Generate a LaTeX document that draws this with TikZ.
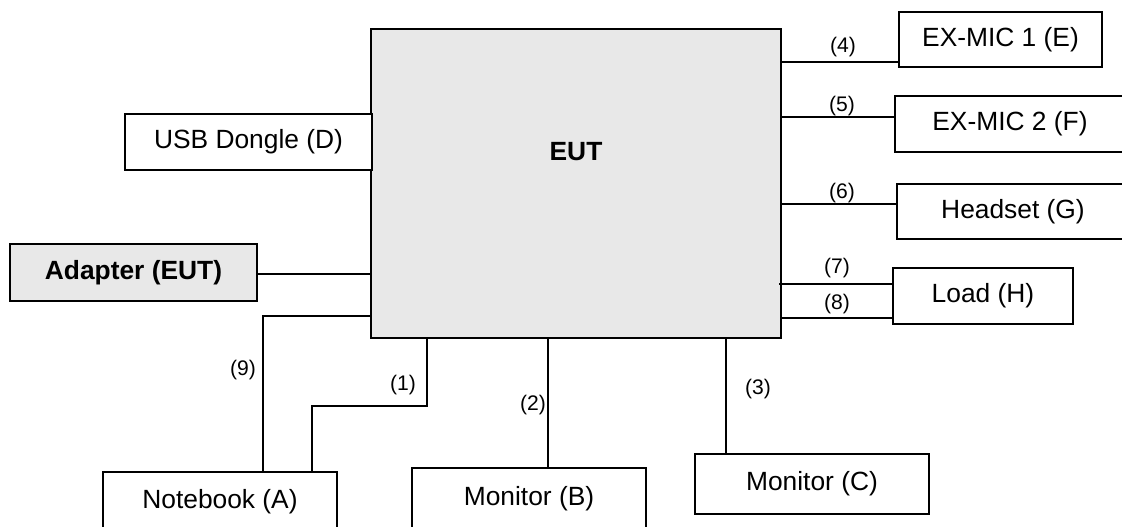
\documentclass[tikz,border=0pt]{standalone}
\usepackage{fontspec}
\setmainfont{Liberation Sans}
\usepackage{tikz}
\definecolor{eutgray}{HTML}{E8E8E8}

\begin{document}
\begin{tikzpicture}[x=0.02cm, y=-0.02cm,
  box/.style = {draw,line width=0.8pt,fill=white,align=center,
        inner sep=0pt,font=\fontsize{15}{18}\selectfont},
  hl/.style = {fill=eutgray,font=\fontsize{15}{18}\selectfont\bfseries},
  num/.style = {inner sep=0pt,font=\fontsize{12}{14}\selectfont},
  wire/.style = {line width=0.6pt}]
 \path[use as bounding box,clip] (0,0) rectangle (1122,527);

 \node[box,fill=eutgray,line width=1pt,minimum width=8.2cm,minimum height=6.18cm,
   label={[font=\fontsize{15}{18}\selectfont\bfseries,yshift=6.3mm]center:EUT}]
   (eut) at (576,183.5) {};
 \node[box,minimum width=4.94cm,minimum height=1.12cm] (usb) at (248.5,142) {USB Dongle (D)};
 \node[box,hl,minimum width=4.94cm,minimum height=1.14cm] (adapter) at (133.5,272.5) {Adapter (EUT)};
 \node[box,minimum width=4.06cm,minimum height=1.1cm] (mic1) at (1000.5,39.5) {EX-MIC 1 (E)};
 \node[box,minimum width=4.6cm,minimum height=1.12cm] (mic2) at (1010,124) {EX-MIC 2 (F)};
 \node[box,minimum width=4.64cm,minimum height=1.1cm] (headset) at (1013,211.5) {Headset (G)};
 \node[box,minimum width=3.6cm,minimum height=1.12cm] (load) at (983,296) {Load (H)};
 \node[box,minimum width=4.68cm,minimum height=1.2cm] (nb) at (220,502) {Notebook (A)};
 \node[box,minimum width=4.68cm,minimum height=1.24cm] (monB) at (529,499) {Monitor (B)};
 \node[box,minimum width=4.68cm,minimum height=1.2cm] (monC) at (812,484) {Monitor (C)};

 \coordinate (w1) at (312,406);
 \coordinate (w1a) at (427,406);
 \coordinate (w2) at (548,400);
 \coordinate (w3) at (726,400);
 \coordinate (w4) at (790,62);
 \coordinate (w5) at (790,117);
 \coordinate (w6) at (790,204);
 \coordinate (w7) at (790,284);
 \coordinate (w8) at (790,318);
 \coordinate (w9) at (263,316);
 \coordinate (wa) at (300,274);

 \draw[wire] (adapter.east |- wa) -- (eut.west |- wa);
 \draw[wire] (eut.west |- w9) -| (nb.north -| w9);
 \draw[wire] (eut.south -| w1a) |- (w1) -- (nb.north -| w1);
 \draw[wire] (eut.south -| w2) -- (monB.north -| w2);
 \draw[wire] (eut.south -| w3) -- (monC.north -| w3);
 \draw[wire] (eut.east |- w4) -- (mic1.west |- w4);
 \draw[wire] (eut.east |- w5) -- (mic2.west |- w5);
 \draw[wire] (eut.east |- w6) -- (headset.west |- w6);
 \draw[wire] ([xshift=-1.5pt]eut.east |- w7) -- (load.west |- w7);
 \draw[wire] (eut.east |- w8) -- (load.west |- w8);

 \node[num] (l1) at (403,385) {(1)};
 \node[num] (l2) at (533,405) {(2)};
 \node[num] (l3) at (758,389) {(3)};
 \node[num] (l4) at (843,47)  {(4)};
 \node[num] (l5) at (842,106) {(5)};
 \node[num] (l6) at (842,193) {(6)};
 \node[num] (l7) at (837,268) {(7)};
 \node[num] (l8) at (837,304) {(8)};
 \node[num] (l9) at (243,370) {(9)};
\end{tikzpicture}
\end{document}
